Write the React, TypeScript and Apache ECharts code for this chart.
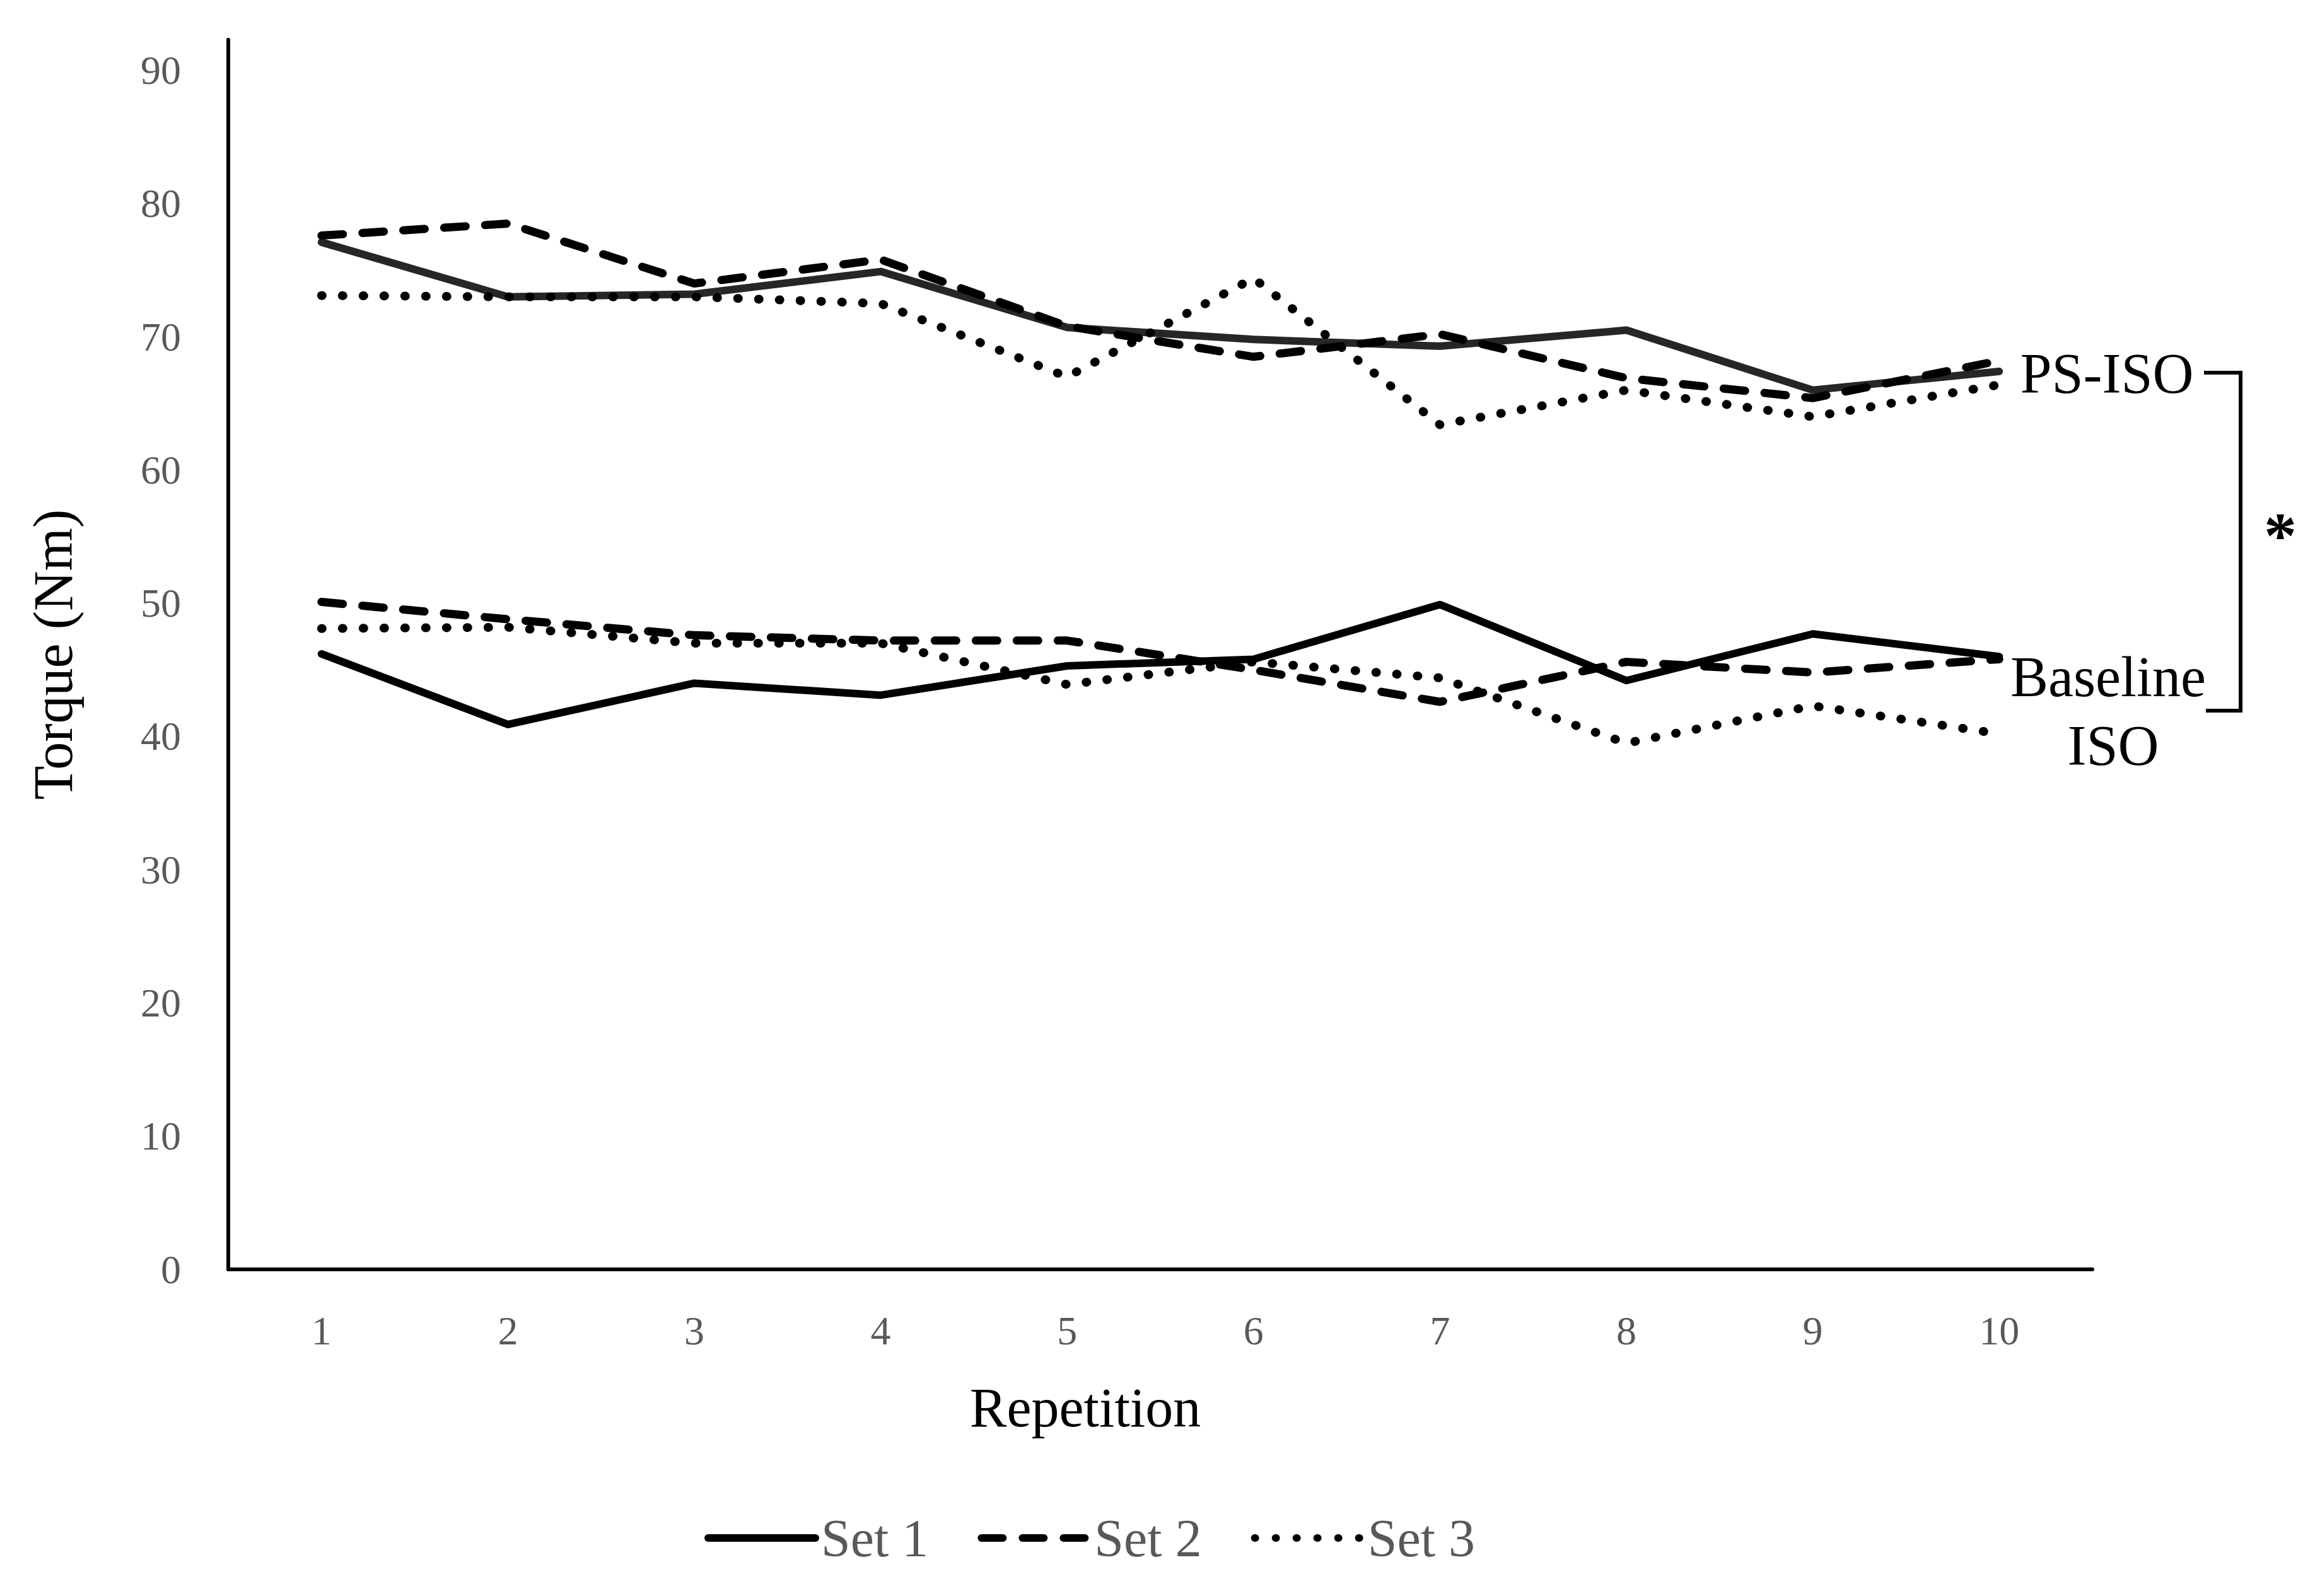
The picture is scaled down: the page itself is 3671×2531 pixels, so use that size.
import React, { useEffect, useRef } from "react";
import * as echarts from "echarts";

const repetitions = ["1", "2", "3", "4", "5", "6", "7", "8", "9", "10"];
const yTicks = [0, 10, 20, 30, 40, 50, 60, 70, 80, 90];

const psIsoSet1 = [77.1, 73.0, 73.2, 74.9, 70.7, 69.8, 69.3, 70.5, 66.0, 67.4];
const psIsoSet2 = [77.6, 78.5, 74.0, 75.8, 70.8, 68.5, 70.2, 66.9, 65.4, 68.2];
const psIsoSet3 = [73.1, 73.0, 73.0, 72.5, 67.0, 74.4, 63.4, 66.0, 64.0, 66.4];

const baseSet1 = [46.2, 40.9, 44.0, 43.1, 45.3, 45.8, 49.9, 44.2, 47.7, 46.0];
const baseSet2 = [50.1, 48.8, 47.6, 47.2, 47.2, 45.0, 42.6, 45.6, 44.8, 45.8];
const baseSet3 = [48.1, 48.2, 47.0, 47.0, 43.9, 45.6, 44.4, 39.5, 42.3, 40.2];

const legendNames = ["Set 1", "Set 2", "Set 3"];
const groupLabels = ["PS-ISO", "Baseline", "ISO"];

const FONT = "'Liberation Serif', 'Times New Roman', serif";

export default function App() {
  const ref = useRef<HTMLDivElement>(null);

  useEffect(() => {
    document.body.style.margin = "0";
    if (!ref.current) return;
    const chart = echarts.init(ref.current, null, { renderer: "svg" });

    const solid = (color: string) => ({
      type: "solid",
      width: 12,
      color,
      cap: "round",
      join: "round",
    });
    const dashed = {
      type: [34, 31],
      width: 13,
      color: "#000",
      cap: "round",
      join: "round",
    };
    const dotted = {
      type: [1, 32],
      width: 14,
      color: "#000",
      cap: "round",
      join: "round",
    };

    const mk = (name: string, data: number[], lineStyle: any) => ({
      name,
      type: "line",
      data,
      symbol: "none",
      lineStyle,
      itemStyle: { color: lineStyle.color },
      silent: true,
    });

    chart.setOption({
      animation: false,
      backgroundColor: "#ffffff",
      grid: { left: 362, right: 353, top: 63, bottom: 518, containLabel: false },
      legend: {
        data: legendNames,
        left: 1112,
        top: 2392,
        itemWidth: 170,
        itemHeight: 20,
        itemGap: 78,
        itemStyle: { opacity: 0 },
        lineStyle: { width: 12 },
        textStyle: {
          fontFamily: FONT,
          fontSize: 84,
          color: "#595959",
          padding: [0, 0, 0, 4],
        },
      },
      xAxis: {
        type: "category",
        data: repetitions,
        boundaryGap: true,
        axisLine: { show: true, lineStyle: { color: "#000", width: 6 } },
        axisTick: { show: false },
        splitLine: { show: false },
        axisLabel: {
          margin: 65,
          fontFamily: FONT,
          fontSize: 64,
          color: "#595959",
        },
      },
      yAxis: {
        type: "value",
        min: 0,
        max: 92.3,
        interval: 10,
        name: "Torque (Nm)",
        nameLocation: "middle",
        nameRotate: 90,
        nameGap: 234,
        nameTextStyle: { fontFamily: FONT, fontSize: 88, color: "#000" },
        axisLine: { show: true, lineStyle: { color: "#000", width: 6 } },
        axisTick: { show: false },
        splitLine: { show: false },
        axisLabel: {
          margin: 75,
          showMaxLabel: false,
          fontFamily: FONT,
          fontSize: 64,
          color: "#595959",
          formatter: (v: number) => (yTicks.includes(v) ? String(v) : ""),
        },
      },
      graphic: [
        {
          type: "text",
          x: 1721,
          y: 2232,
          style: {
            text: "Repetition",
            fontFamily: FONT,
            fontSize: 88,
            fill: "#000",
            textAlign: "center",
            textVerticalAlign: "middle",
          },
        },
        {
          type: "text",
          x: 3341,
          y: 592,
          style: {
            text: groupLabels[0],
            fontFamily: FONT,
            fontSize: 90,
            fill: "#000",
            textAlign: "center",
            textVerticalAlign: "middle",
          },
        },
        {
          type: "text",
          x: 3343,
          y: 1073,
          style: {
            text: groupLabels[1],
            fontFamily: FONT,
            fontSize: 90,
            fill: "#000",
            textAlign: "center",
            textVerticalAlign: "middle",
          },
        },
        {
          type: "text",
          x: 3351,
          y: 1182,
          style: {
            text: groupLabels[2],
            fontFamily: FONT,
            fontSize: 90,
            fill: "#000",
            textAlign: "center",
            textVerticalAlign: "middle",
          },
        },
        {
          type: "polyline",
          shape: {
            points: [
              [3495, 591],
              [3553, 591],
              [3553, 1127],
              [3498, 1127],
            ],
          },
          style: { stroke: "#000", lineWidth: 6, fill: null },
        },
        {
          type: "text",
          x: 3616,
          y: 848,
          style: {
            text: "*",
            fontFamily: FONT,
            fontSize: 104,
            fontWeight: "bold",
            fill: "#000",
            textAlign: "center",
            textVerticalAlign: "middle",
          },
        },
      ],
      series: [
        mk("Set 1", baseSet1, solid("#000000")),
        mk("Set 2", baseSet2, dashed),
        mk("Set 3", baseSet3, dotted),
        mk("Set 1", psIsoSet1, solid("#262626")),
        mk("Set 2", psIsoSet2, dashed),
        mk("Set 3", psIsoSet3, dotted),
      ],
    });

    return () => chart.dispose();
  }, []);

  return <div ref={ref} style={{ width: 3671, height: 2531 }} />;
}
